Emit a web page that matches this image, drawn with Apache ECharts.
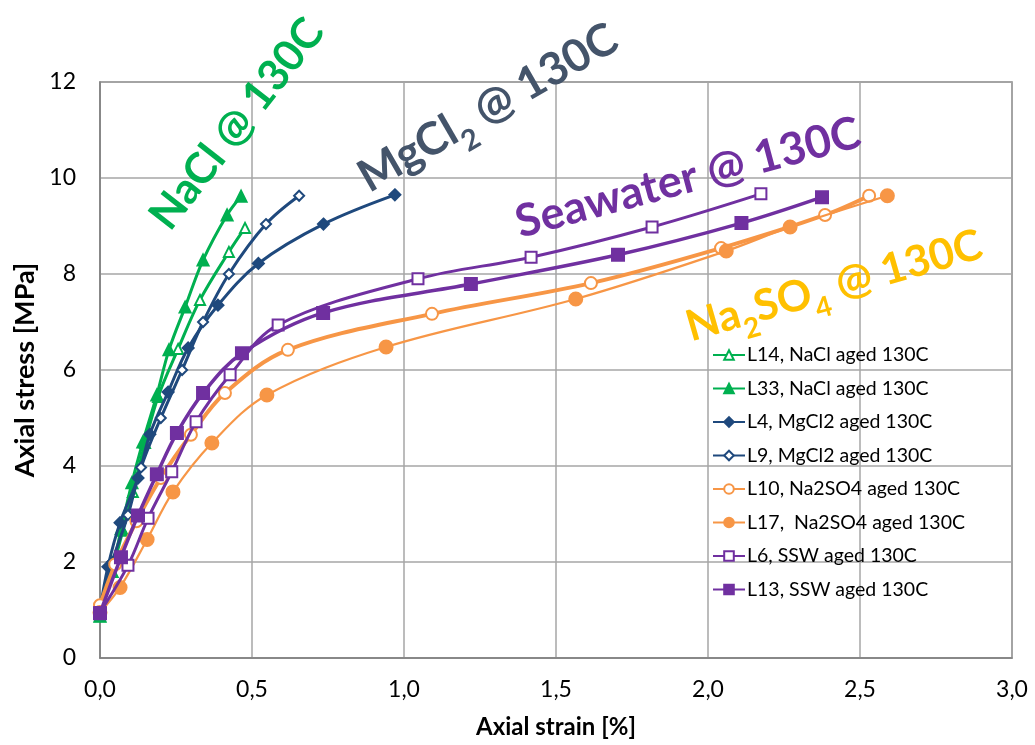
<!DOCTYPE html>
<html>
<head>
<meta charset="utf-8">
<script src="https://cdn.jsdelivr.net/npm/echarts@6/dist/echarts.min.js"></script>
<style>html,body{margin:0;padding:0;background:#fff}#c{width:1035px;height:745px}</style>
</head>
<body>
<div id="c"></div>
<script>
// Data (x = axial strain %, y = axial stress MPa)
const L14 = [[0,0.87],[0.075,2.65],[0.108,3.46],[0.148,4.48],[0.191,5.44],[0.257,6.44],[0.329,7.46],[0.424,8.46],[0.477,8.96]];
const L33 = [[0,0.87],[0.04,1.8],[0.07,2.7],[0.105,3.65],[0.141,4.5],[0.187,5.48],[0.227,6.42],[0.280,7.31],[0.339,8.29],[0.418,9.23],[0.464,9.62]];
const L4  = [[0,1.0],[0.026,1.9],[0.066,2.82],[0.125,3.75],[0.164,4.66],[0.224,5.54],[0.29,6.46],[0.388,7.35],[0.521,8.22],[0.735,9.04],[0.97,9.65]];
const L9  = [[0,1.0],[0.04,2.0],[0.092,2.98],[0.135,3.97],[0.20,5.0],[0.27,6.0],[0.339,7.0],[0.424,8.0],[0.546,9.04],[0.655,9.63]];
const L10 = [[0,1.1],[0.05,1.95],[0.12,2.85],[0.2,3.75],[0.299,4.65],[0.411,5.52],[0.618,6.42],[1.092,7.17],[1.615,7.81],[2.043,8.54],[2.385,9.23],[2.53,9.63]];
const L17 = [[0,0.95],[0.066,1.47],[0.155,2.47],[0.24,3.46],[0.368,4.48],[0.549,5.48],[0.941,6.48],[1.565,7.48],[2.06,8.48],[2.27,8.98],[2.59,9.63]];
const L6  = [[0,0.95],[0.092,1.93],[0.158,2.91],[0.236,3.88],[0.316,4.92],[0.428,5.9],[0.586,6.94],[1.046,7.9],[1.418,8.35],[1.816,8.98],[2.174,9.67]];
const L13 = [[0,0.93],[0.069,2.1],[0.125,2.97],[0.187,3.83],[0.253,4.69],[0.339,5.52],[0.467,6.35],[0.734,7.19],[1.22,7.79],[1.704,8.40],[2.11,9.06],[2.375,9.6]];

const seriesNames = ['L14, NaCl aged 130C','L33, NaCl aged 130C','L4, MgCl2 aged 130C','L9, MgCl2 aged 130C','L10, Na2SO4 aged 130C','L17,  Na2SO4 aged 130C','L6, SSW aged 130C','L13, SSW aged 130C'];
const seriesData = [L14, L33, L4, L9, L10, L17, L6, L13];

const GREEN='#00B050', BLUE='#1F497D', ORANGE='#F79646', PURPLE='#7030A0';
const styles = [
  {c:GREEN, sym:'emptyTriangle', size:10, w:3},
  {c:GREEN, sym:'triangle', size:11, w:3},
  {c:BLUE, sym:'diamond', size:11, w:3},
  {c:BLUE, sym:'emptyDiamond', size:10, w:3},
  {c:ORANGE, sym:'emptyCircle', size:12, w:4},
  {c:ORANGE, sym:'circle', size:13, w:2.2},
  {c:PURPLE, sym:'emptyRect', size:11, w:3},
  {c:PURPLE, sym:'rect', size:12, w:3.5}
];

const FONT = 'Lato, "Open Sans", sans-serif';
const chart = echarts.init(document.getElementById('c'), null, {renderer:'canvas'});

const series = seriesData.map((d,i)=>({
  name: seriesNames[i], type:'line', data:d, smooth:0.35,
  symbol: styles[i].sym, symbolSize: styles[i].size, showAllSymbol:true,
  lineStyle:{color:styles[i].c, width:styles[i].w},
  itemStyle:{color:styles[i].c, borderColor:styles[i].c, borderWidth:2},
  emphasis:{disabled:true}, z: 2+i
}));

function annot(x,y,deg,color,rich,fs){
  return {type:'text', x:x, y:y, rotation:deg*Math.PI/180, z:100,
    style:{text:rich, fill:color, align:'center', verticalAlign:'middle',
      rich:{m:{fontSize:fs,fontWeight:'bold',fontFamily:FONT,fill:color,lineHeight:fs*1.5,verticalAlign:'middle'},
            s:{fontSize:Math.round(fs*0.65),fontWeight:'bold',fontFamily:FONT,fill:color,lineHeight:fs*1.5,verticalAlign:'bottom'}}}};
}

chart.setOption({
  animation:false,
  backgroundColor:'#fff',
  grid:{left:100, right:23, top:82, bottom:87, outerBoundsMode:'none', containLabel:false,
        show:true, borderColor:'#7f7f7f', borderWidth:1.5},
  xAxis:{type:'value', min:0, max:3, interval:0.5,
    name:'Axial strain [%]', nameLocation:'middle', nameGap:57,
    nameTextStyle:{fontSize:24, fontWeight:'bold', fontFamily:FONT, color:'#000'},
    axisLine:{show:true, lineStyle:{color:'#7f7f7f', width:1.5}},
    axisTick:{show:false},
    axisLabel:{fontSize:23, fontFamily:FONT, color:'#000', margin:20, formatter:v=>v.toFixed(1).replace('.',',')},
    splitLine:{show:true, lineStyle:{color:'#a6a6a6', width:1.5}}},
  yAxis:{type:'value', min:0, max:12, interval:2,
    name:'Axial stress [MPa]', nameLocation:'middle', nameGap:58, nameRotate:90,
    nameTextStyle:{fontSize:27, fontWeight:'bold', fontFamily:FONT, color:'#000'},
    axisLine:{show:true, lineStyle:{color:'#7f7f7f', width:1.5}},
    axisTick:{show:false},
    axisLabel:{fontSize:23, fontFamily:FONT, color:'#000', margin:24},
    splitLine:{show:true, lineStyle:{color:'#a6a6a6', width:1.5}}},
  legend:{orient:'vertical', left:707, top:340, itemWidth:32, itemHeight:12, itemGap:13.5,
    textStyle:{fontSize:19.5, fontFamily:FONT, color:'#000', padding:[0,0,0,-3]},
    data:seriesNames, selectedMode:false},
  graphic:[
    annot(237,124,52,GREEN,'{m|NaCl @ 130C}',43),
    annot(488,108,30,'#44546A','{m|MgCl}{s|2}{m| @ 130C}',45),
    annot(688,178,15,PURPLE,'{m|Seawater @ 130C}',45),
    annot(834,286,16,'#FFC000','{m|Na}{s|2}{m|SO}{s|4}{m| @ 130C}',43)
  ],
  series: series
});
</script>
</body>
</html>
